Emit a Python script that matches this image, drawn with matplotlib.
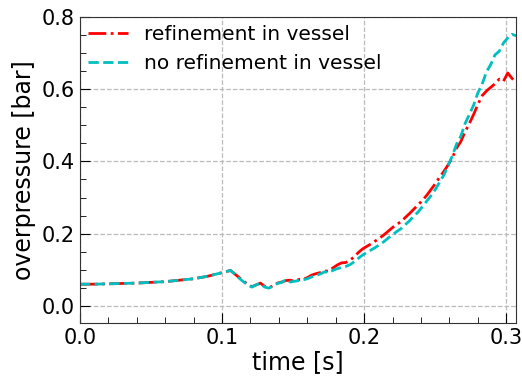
import matplotlib
matplotlib.use("Agg")
import matplotlib.pyplot as plt
from matplotlib.ticker import MultipleLocator

# time [s]
t = [0.000, 0.010, 0.020, 0.030, 0.040, 0.050, 0.060, 0.070, 0.080, 0.090,
     0.100, 0.106, 0.110, 0.114, 0.118, 0.121, 0.124, 0.127, 0.130, 0.133,
     0.136, 0.139, 0.142, 0.145, 0.148, 0.151, 0.154, 0.157, 0.160, 0.163,
     0.166, 0.169, 0.172, 0.175, 0.178, 0.181, 0.184, 0.187, 0.190, 0.193,
     0.196, 0.199, 0.202, 0.205, 0.208, 0.211, 0.214, 0.217, 0.220, 0.223,
     0.226, 0.229, 0.232, 0.235, 0.238, 0.241, 0.244, 0.247, 0.250, 0.253,
     0.256, 0.259, 0.262, 0.265, 0.268, 0.271, 0.274, 0.277, 0.280, 0.283,
     0.286, 0.289, 0.292, 0.295, 0.298, 0.301, 0.304, 0.307]

# overpressure [bar]
p_refined = [0.060, 0.060, 0.061, 0.062, 0.063, 0.065, 0.067, 0.071, 0.075, 0.082,
             0.092, 0.098, 0.085, 0.072, 0.060, 0.053, 0.058, 0.063, 0.054, 0.050,
             0.056, 0.063, 0.066, 0.070, 0.071, 0.068, 0.073, 0.074, 0.078, 0.085,
             0.089, 0.092, 0.097, 0.096, 0.105, 0.113, 0.119, 0.120, 0.126, 0.136,
             0.148, 0.158, 0.165, 0.172, 0.180, 0.188, 0.197, 0.207, 0.217, 0.226,
             0.233, 0.245, 0.256, 0.268, 0.280, 0.292, 0.306, 0.322, 0.338, 0.356,
             0.372, 0.390, 0.410, 0.437, 0.455, 0.482, 0.505, 0.530, 0.558, 0.582,
             0.595, 0.605, 0.615, 0.628, 0.622, 0.645, 0.630, 0.618]

p_coarse = [0.060, 0.060, 0.061, 0.062, 0.063, 0.065, 0.067, 0.071, 0.075, 0.082,
            0.092, 0.098, 0.084, 0.070, 0.058, 0.052, 0.058, 0.062, 0.052, 0.049,
            0.055, 0.062, 0.065, 0.072, 0.066, 0.068, 0.070, 0.072, 0.075, 0.080,
            0.084, 0.088, 0.094, 0.093, 0.098, 0.103, 0.106, 0.109, 0.114, 0.122,
            0.132, 0.141, 0.148, 0.155, 0.162, 0.170, 0.178, 0.188, 0.197, 0.206,
            0.214, 0.225, 0.236, 0.249, 0.260, 0.275, 0.290, 0.305, 0.322, 0.342,
            0.362, 0.388, 0.415, 0.448, 0.470, 0.505, 0.530, 0.556, 0.590, 0.614,
            0.648, 0.668, 0.695, 0.705, 0.728, 0.742, 0.752, 0.748]

fig = plt.figure(figsize=(5.22, 3.78), dpi=100)
ax = fig.add_axes([0.153, 0.146, 0.836, 0.809])

ax.plot(t, p_refined, "r-.", linewidth=2, label="refinement in vessel")
ax.plot(t, p_coarse, "c--", linewidth=2, label="no refinement in vessel")

ax.set_xlim(0, 0.307)
ax.set_ylim(-0.047, 0.8)
ax.xaxis.set_major_locator(MultipleLocator(0.1))
ax.xaxis.set_minor_locator(MultipleLocator(0.02))
ax.yaxis.set_major_locator(MultipleLocator(0.2))
ax.yaxis.set_minor_locator(MultipleLocator(0.05))
ax.tick_params(which="both", direction="in", labelsize=15)
ax.tick_params(which="major", length=7)
ax.tick_params(which="minor", length=4)
for s in ax.spines.values():
    s.set_color("#333333")

ax.set_xlabel("time [s]", fontsize=17, labelpad=2)
ax.set_ylabel("overpressure [bar]", fontsize=17)
ax.grid(True, linestyle="--", color="#bbbbbb", linewidth=0.9)
ax.legend(loc="upper left", frameon=False, fontsize=14.5,
          handlelength=2.0, handletextpad=0.8, borderaxespad=0.0,
          labelspacing=0.5)

fig.savefig("out.png", dpi=100)
